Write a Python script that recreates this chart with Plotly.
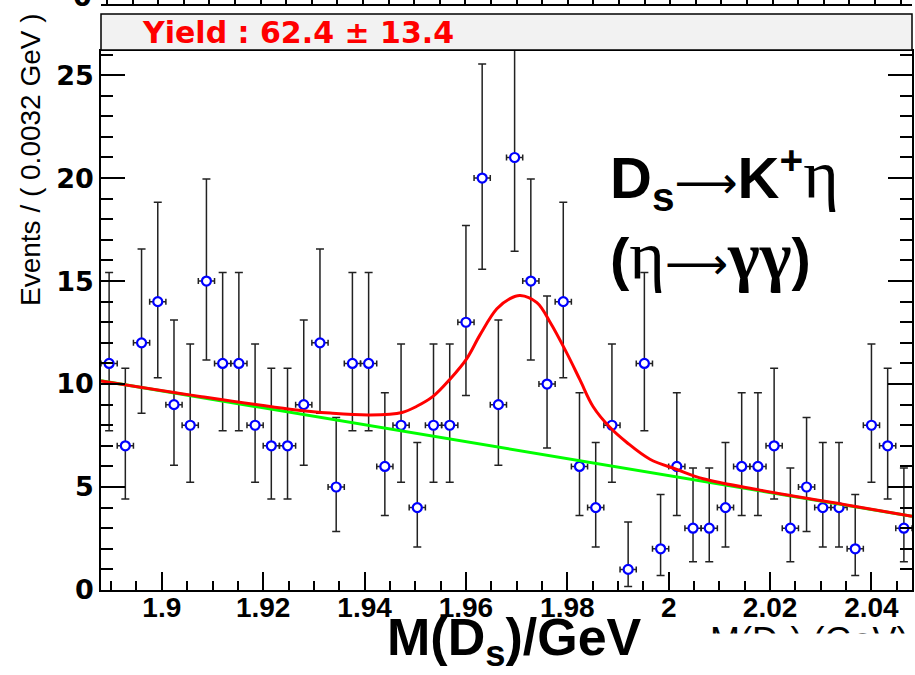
import plotly.graph_objects as go

# ---------------- data ----------------
mass_centers = [1.8896, 1.8928, 1.8960, 1.8992, 1.9024, 1.9056, 1.9088, 1.9120, 1.9152, 1.9184,
                1.9216, 1.9248, 1.9280, 1.9312, 1.9344, 1.9376, 1.9408, 1.9440, 1.9472, 1.9504,
                1.9536, 1.9568, 1.9600, 1.9632, 1.9664, 1.9696, 1.9728, 1.9760, 1.9792, 1.9824,
                1.9856, 1.9888, 1.9920, 1.9952, 1.9984, 2.0016, 2.0048, 2.0080, 2.0112, 2.0144,
                2.0176, 2.0208, 2.0240, 2.0272, 2.0304, 2.0336, 2.0368, 2.0400, 2.0432, 2.0464]
counts = [11, 7, 12, 14, 9, 8, 15, 11, 11, 8,
          7, 7, 9, 12, 5, 11, 11, 6, 8, 4,
          8, 8, 13, 20, 9, 21, 15, 10, 14, 6,
          4, 8, 1, 11, 2, 6, 3, 3, 4, 6,
          6, 7, 3, 5, 4, 4, 2, 8, 7, 3]
err_hi = [4.42, 3.77, 4.56, 4.83, 4.11, 3.95, 4.95, 4.42, 4.42, 3.95,
          3.77, 3.77, 4.11, 4.56, 3.38, 4.42, 4.42, 3.58, 3.95, 3.16,
          3.95, 3.95, 4.70, 5.54, 4.11, 5.64, 4.95, 4.27, 4.83, 3.58,
          3.16, 3.95, 2.30, 4.42, 2.64, 3.58, 2.92, 2.92, 3.16, 3.58,
          3.58, 3.77, 2.92, 3.38, 3.16, 3.16, 2.64, 3.95, 3.77, 2.92]
err_lo = [3.27, 2.58, 3.42, 3.70, 2.94, 2.77, 3.83, 3.27, 3.27, 2.77,
          2.58, 2.58, 2.94, 3.42, 2.16, 3.27, 3.27, 2.38, 2.77, 1.91,
          2.77, 2.77, 3.56, 4.43, 2.94, 4.55, 3.83, 3.11, 3.70, 2.38,
          1.91, 2.77, 0.83, 3.27, 1.29, 2.38, 1.63, 1.63, 1.91, 2.38,
          2.38, 2.58, 1.63, 2.16, 1.91, 1.91, 1.29, 2.77, 2.58, 1.63]
bin_half_width = 0.0016

fit_mass = [1.8880, 1.9075, 1.9253, 1.9332, 1.9411, 1.9474, 1.9503, 1.9535, 1.9569, 1.9602,
            1.9628, 1.9661, 1.9687, 1.9707, 1.9740, 1.9766, 1.9799, 1.9825, 1.9851, 1.9884,
            1.9918, 1.9963, 2.0016, 2.0068, 2.0180, 2.0377, 2.0480]
fit_vals = [10.15, 9.40, 8.78, 8.59, 8.50, 8.62, 8.92, 9.40, 10.25, 11.25,
            12.40, 13.65, 14.15, 14.30, 13.95, 13.00, 11.50, 10.20, 8.90, 7.90,
            7.15, 6.35, 5.85, 5.40, 4.85, 4.02, 3.58]
bkg_mass = [1.888, 2.048]
bkg_vals = [10.16, 3.58]

x_tickvals = [1.90, 1.92, 1.94, 1.96, 1.98, 2.00, 2.02, 2.04]
x_ticktext = ["1.9", "1.92", "1.94", "1.96", "1.98", "2", "2.02", "2.04"]
y_tickvals = [0, 5, 10, 15, 20, 25]
y_ticktext = ["0", "5", "10", "15", "20", "25"]

yield_text = "Yield : 62.4 ± 13.4"
y_title = "Events / ( 0.0032 GeV )"
x_title = "M(D<sub>s</sub>)/GeV"

# ---------------- figure ----------------
W, H = 915, 675
def px(x):
    return x / W
def py(y):
    return 1 - y / H

fig = go.Figure()

fig.add_trace(go.Scatter(
    x=mass_centers, y=counts, mode="markers",
    marker=dict(symbol="circle", size=9, color="white",
                line=dict(color="#0000ff", width=2.2)),
    error_y=dict(type="data", symmetric=False, array=err_hi, arrayminus=err_lo,
                 color="#222222", thickness=1.5, width=4),
    error_x=dict(type="constant", value=bin_half_width, color="#222222",
                 thickness=1.5, width=3),
    showlegend=False, hoverinfo="skip"))

fig.add_trace(go.Scatter(
    x=bkg_mass, y=bkg_vals, mode="lines",
    line=dict(color="#00ff00", width=3), showlegend=False, hoverinfo="skip"))

fig.add_trace(go.Scatter(
    x=fit_mass, y=fit_vals, mode="lines",
    line=dict(color="#ff0000", width=3, shape="spline", smoothing=1.0),
    showlegend=False, hoverinfo="skip"))

# dummy trace so the remnant axis of the panel above is drawn
fig.add_trace(go.Scatter(x=[1.95], y=[-100], xaxis="x2", yaxis="y", mode="markers",
                         marker=dict(opacity=0), showlegend=False, hoverinfo="skip"))

axis_common = dict(showgrid=False, zeroline=False, showline=True, linecolor="black",
                   linewidth=1.5, ticks="inside", tickcolor="black", tickwidth=1.5)

fig.update_layout(
    width=W, height=H, autosize=False,
    margin=dict(l=0, r=0, t=0, b=0, pad=0, autoexpand=False),
    paper_bgcolor="white", plot_bgcolor="white",
    xaxis=dict(domain=[px(101), px(912)], range=[1.888, 2.048],
               tickmode="array", tickvals=x_tickvals, ticktext=x_ticktext,
               ticklen=18, mirror=True, ticklabelstandoff=-8,
               tickfont=dict(family="Liberation Sans", size=28, color="black", weight="bold"),
               minor=dict(tickmode="linear", tick0=1.9, dtick=0.005, ticks="inside",
                          ticklen=9, tickcolor="black", tickwidth=1.5, showgrid=False),
               **axis_common),
    yaxis=dict(domain=[py(590), py(51)], range=[0, 26.17],
               tickmode="array", tickvals=y_tickvals, ticktext=y_ticktext,
               ticklen=24, mirror="ticks",
               tickfont=dict(family="DejaVu Sans", size=27, color="black", weight="bold"),
               minor=dict(tickmode="linear", tick0=0, dtick=1, ticks="inside",
                          ticklen=12, tickcolor="black", tickwidth=1.5, showgrid=False),
               **axis_common),
    xaxis2=dict(overlaying="x", anchor="free", position=py(5), side="top",
                range=[1.888, 2.048], showgrid=False, zeroline=False, showline=True,
                linecolor="black", linewidth=1.5, ticks="outside", ticklen=6,
                tickcolor="black", tickwidth=1.5, tickmode="linear", tick0=1.8892,
                dtick=0.00505, showticklabels=False),
    shapes=[dict(type="rect", xref="paper", yref="paper",
                 x0=px(101), x1=px(912), y0=py(50), y1=py(14),
                 fillcolor="#f2f2f2", line=dict(color="black", width=1.5), layer="above")],
)

serif = "font-family:Liberation Serif;font-size:68px"
arrow = "<span style='font-family:DejaVu Sans;font-size:44px'>⟶</span>"
ann = []
ann.append(dict(text=yield_text, x=px(140), y=py(33), xanchor="left", yanchor="middle",
                font=dict(family="DejaVu Sans", size=30, color="#ff0000", weight="bold")))
ann.append(dict(text=y_title, textangle=-90, x=px(30), y=py(160), xanchor="center",
                yanchor="middle",
                font=dict(family="Liberation Sans", size=28, color="black")))
ann.append(dict(text=x_title, x=px(514), y=py(606), xanchor="center", yanchor="top",
                font=dict(family="Liberation Sans", size=52, color="black", weight="bold")))
ann.append(dict(text="<b>D<sub>s</sub></b>" + arrow + "<b>K<sup>+</sup></b><span style='" + serif + "'>η</span>",
                x=px(608), y=py(178), xanchor="left", yanchor="middle",
                font=dict(family="Liberation Sans", size=58, color="black")))
ann.append(dict(text="<b>(</b><span style='" + serif + "'>η</span>" + arrow + "<span style='" + serif + "'><b>γγ</b></span><b>)</b>",
                x=px(608), y=py(256), xanchor="left", yanchor="middle",
                font=dict(family="Liberation Sans", size=58, color="black")))
# remnant of the panel above
ann.append(dict(text="0", x=px(82), y=py(14), xanchor="center", yanchor="bottom",
                font=dict(family="DejaVu Sans", size=27, color="black", weight="bold")))
# remnant of the original axis title, partly hidden
ann.append(dict(text="M(D<sub>s</sub>) (GeV)", x=px(708), y=py(618), xanchor="left",
                yanchor="top", font=dict(family="Liberation Sans", size=36, color="black")))
ann.append(dict(text=" ", x=px(700), y=py(633), xanchor="left", yanchor="top",
                width=230, height=50, bgcolor="white", borderpad=0,
                font=dict(size=10)))
for a in ann:
    a.update(xref="paper", yref="paper", showarrow=False)
fig.update_layout(annotations=ann)

fig.write_html("out.html",
               config={"displayModeBar": False, "responsive": False},
               post_script="document.body.style.margin='0px';document.body.style.padding='0px';"
                           "document.documentElement.style.overflow='hidden';")
